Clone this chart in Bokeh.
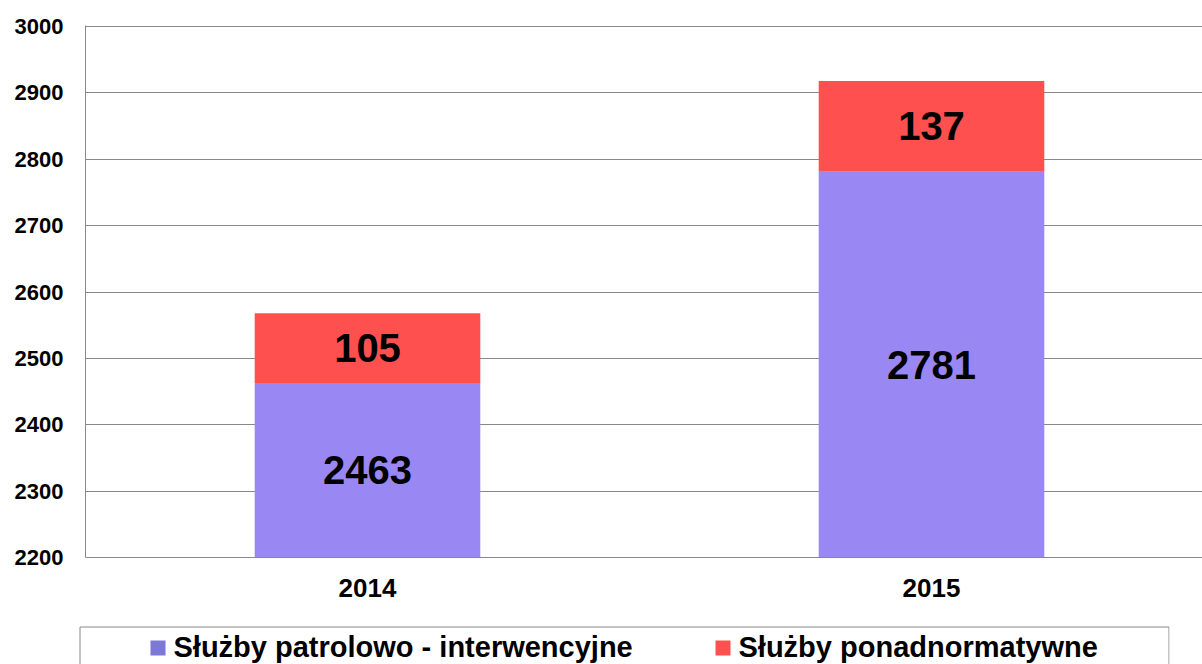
from bokeh.plotting import figure
from bokeh.models import Range1d, FixedTicker, ColumnDataSource
from bokeh.core.properties import value
from bokeh.embed import file_html
from bokeh.resources import INLINE

years = ["2014", "2015"]
series_names = ["Służby patrolowo - interwencyjne", "Służby ponadnormatywne"]
patrol = [2463, 2781]
extra = [105, 137]
y_ticks = [2200, 2300, 2400, 2500, 2600, 2700, 2800, 2900, 3000]

bar_colors = ["#9988F4", "#FF5050"]
swatch_colors = ["#7B78D8", "#FF5050"]
FONT = "Liberation Sans"
Y0, Y1 = 2200, 3000
Y1_VIEW = Y0 + 532 * (Y1 - Y0) / 531  # one extra pixel above 3000 so its grid line shows

xs = [i + 0.5 for i in range(len(years))]
src = ColumnDataSource(dict(x=xs, patrol=patrol, extra=extra))

p = figure(width=1202, height=620, output_backend="svg", toolbar_location=None,
           x_range=Range1d(0, 1117 / 564), y_range=Range1d(Y0, Y1_VIEW))
p.min_border_left = 85
p.min_border_top = 25
p.min_border_bottom = 63
p.min_border_right = 0
p.outline_line_color = None
p.background_fill_color = "white"

p.vbar_stack(["patrol", "extra"], x="x", width=0.4, color=bar_colors, source=src, line_color=None)

# value labels at middle of visible segments
lx, ly, lt = [], [], []
for i, x in enumerate(xs):
    b = 0
    for v in (patrol[i], extra[i]):
        top = b + v
        lx.append(x)
        ly.append((max(b, Y0) + min(top, Y1)) / 2)
        lt.append(str(v))
        b = top
p.text(x=lx, y=ly, text=lt, text_align="center", text_baseline="middle",
       text_font=value(FONT), text_font_style="bold", text_font_size="40px", text_color="black")

p.xgrid.grid_line_color = None
p.ygrid.grid_line_color = "#888888"
p.ygrid.ticker = FixedTicker(ticks=y_ticks)

p.yaxis.ticker = FixedTicker(ticks=y_ticks)
p.yaxis.major_tick_line_color = None
p.yaxis.minor_tick_line_color = None
p.yaxis.major_tick_out = 0
p.yaxis.major_tick_in = 0
p.yaxis.axis_line_color = "#888888"
p.yaxis.major_label_standoff = 22
p.yaxis.major_label_text_font = FONT
p.yaxis.major_label_text_font_style = "bold"
p.yaxis.major_label_text_font_size = "22px"
p.yaxis.major_label_text_color = "black"

p.xaxis.ticker = FixedTicker(ticks=xs)
p.xaxis.major_label_overrides = {x: y for x, y in zip(xs, years)}
p.xaxis.major_tick_line_color = None
p.xaxis.minor_tick_line_color = None
p.xaxis.major_tick_out = 0
p.xaxis.major_tick_in = 0
p.xaxis.axis_line_color = "#888888"
p.xaxis.major_label_standoff = 21
p.xaxis.major_label_text_font = FONT
p.xaxis.major_label_text_font_style = "bold"
p.xaxis.major_label_text_font_size = "26px"
p.xaxis.major_label_text_color = "black"

# legend strip (box open at the bottom, as cut off in the original)
p2 = figure(width=1202, height=44, output_backend="svg", toolbar_location=None,
            x_range=Range1d(-1, 1090), y_range=Range1d(0, 39),
            x_axis_type=None, y_axis_type=None)
p2.min_border = 0
p2.min_border_left = 78
p2.min_border_right = 33
p2.min_border_top = 5
p2.min_border_bottom = 0
p2.outline_line_color = None
p2.xgrid.grid_line_color = None
p2.ygrid.grid_line_color = None

p2.multi_line(xs=[[0.5, 0.5, 1089.5, 1089.5]], ys=[[0, 37.5, 37.5, 0]],
              line_color="#888888", line_width=1)

sw_x = [78.5, 643.5]
tx = [94, 659]
p2.rect(x=sw_x, y=[16.5, 16.5], width=15, height=15, color=swatch_colors, line_color=None)
p2.text(x=tx, y=[18, 18], text=series_names, text_align="left", text_baseline="middle",
        text_font=value(FONT), text_font_style="bold", text_font_size="29px", text_color="black")

open("out.html", "w").write(file_html([p, p2], INLINE))
